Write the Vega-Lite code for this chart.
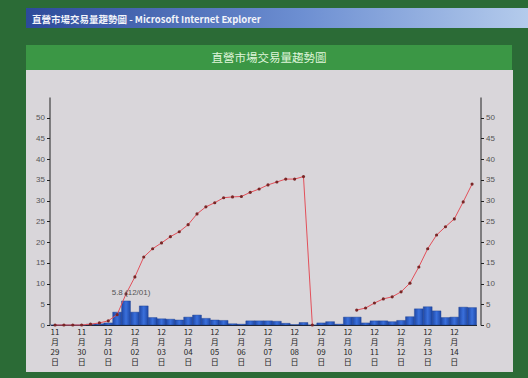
{
  "$schema": "https://vega.github.io/schema/vega-lite/v6.json",
  "background": "#2b6b36",
  "padding": {"left": 26, "top": 8, "right": 0, "bottom": 6},
  "spacing": 17,
  "bounds": "flush",
  "config": {
    "view": {"stroke": null},
    "font": "Noto Sans CJK TC"
  },
  "datasets": {
    "trade": [
      {"t": "11/29 1", "v": 0, "c": 0, "seg": "a"},
      {"t": "11/29 2", "v": 0, "c": 0, "seg": "a"},
      {"t": "11/29 3", "v": 0, "c": 0, "seg": "a"},
      {"t": "11/30 1", "v": 0, "c": 0, "seg": "a"},
      {"t": "11/30 2", "v": 0.2, "c": 0.2, "seg": "a"},
      {"t": "11/30 3", "v": 0.3, "c": 0.5, "seg": "a"},
      {"t": "12/01 1", "v": 0.5, "c": 1.0, "seg": "a"},
      {"t": "12/01 2", "v": 3.1, "c": 2.5, "seg": "a"},
      {"t": "12/01 3", "v": 5.8, "c": 7.5, "seg": "a", "note": "5.8 (12/01)"},
      {"t": "12/02 1", "v": 3.1, "c": 11.6, "seg": "a"},
      {"t": "12/02 2", "v": 4.6, "c": 16.4, "seg": "a"},
      {"t": "12/02 3", "v": 1.8, "c": 18.4, "seg": "a"},
      {"t": "12/03 1", "v": 1.5, "c": 19.8, "seg": "a"},
      {"t": "12/03 2", "v": 1.4, "c": 21.3, "seg": "a"},
      {"t": "12/03 3", "v": 1.2, "c": 22.5, "seg": "a"},
      {"t": "12/04 1", "v": 1.9, "c": 24.2, "seg": "a"},
      {"t": "12/04 2", "v": 2.4, "c": 26.8, "seg": "a"},
      {"t": "12/04 3", "v": 1.6, "c": 28.5, "seg": "a"},
      {"t": "12/05 1", "v": 1.2, "c": 29.5, "seg": "a"},
      {"t": "12/05 2", "v": 1.1, "c": 30.7, "seg": "a"},
      {"t": "12/05 3", "v": 0.3, "c": 30.9, "seg": "a"},
      {"t": "12/06 1", "v": 0.2, "c": 31.0, "seg": "a"},
      {"t": "12/06 2", "v": 1.0, "c": 32.0, "seg": "a"},
      {"t": "12/06 3", "v": 1.0, "c": 32.8, "seg": "a"},
      {"t": "12/07 1", "v": 1.0, "c": 33.8, "seg": "a"},
      {"t": "12/07 2", "v": 0.9, "c": 34.5, "seg": "a"},
      {"t": "12/07 3", "v": 0.4, "c": 35.2, "seg": "a"},
      {"t": "12/08 1", "v": 0.1, "c": 35.2, "seg": "a"},
      {"t": "12/08 2", "v": 0.6, "c": 35.8, "seg": "a"},
      {"t": "12/08 3", "v": 0, "c": 0, "seg": "a"},
      {"t": "12/09 1", "v": 0.5, "c": null, "seg": "b"},
      {"t": "12/09 2", "v": 0.8, "c": null, "seg": "b"},
      {"t": "12/09 3", "v": 0.2, "c": null, "seg": "b"},
      {"t": "12/10 1", "v": 1.9, "c": null, "seg": "b"},
      {"t": "12/10 2", "v": 1.9, "c": 3.6, "seg": "b"},
      {"t": "12/10 3", "v": 0.5, "c": 4.1, "seg": "b"},
      {"t": "12/11 1", "v": 1.0, "c": 5.3, "seg": "b"},
      {"t": "12/11 2", "v": 1.0, "c": 6.3, "seg": "b"},
      {"t": "12/11 3", "v": 0.8, "c": 6.8, "seg": "b"},
      {"t": "12/12 1", "v": 1.1, "c": 8.0, "seg": "b"},
      {"t": "12/12 2", "v": 2.0, "c": 10.1, "seg": "b"},
      {"t": "12/12 3", "v": 3.9, "c": 14.0, "seg": "b"},
      {"t": "12/13 1", "v": 4.4, "c": 18.4, "seg": "b"},
      {"t": "12/13 2", "v": 3.4, "c": 21.7, "seg": "b"},
      {"t": "12/13 3", "v": 1.8, "c": 23.7, "seg": "b"},
      {"t": "12/14 1", "v": 1.9, "c": 25.6, "seg": "b"},
      {"t": "12/14 2", "v": 4.3, "c": 29.7, "seg": "b"},
      {"t": "12/14 3", "v": 4.2, "c": 34.0, "seg": "b"}
    ]
  },
  "vconcat": [
    {
      "width": 502,
      "height": 20,
      "data": {"values": [{}]},
      "mark": {"type": "text", "text": ""},
      "view": {
        "fill": {
          "gradient": "linear", "x1": 0, "y1": 0, "x2": 1, "y2": 0,
          "stops": [
            {"offset": 0, "color": "#2c4a9a"},
            {"offset": 0.55, "color": "#6d8fd2"},
            {"offset": 1, "color": "#b4cbec"}
          ]
        }
      },
      "title": {
        "text": "直營市場交易量趨勢圖 - Microsoft Internet Explorer",
        "anchor": "start",
        "offset": -16,
        "dx": 6,
        "fontSize": 9.5,
        "fontWeight": "bold",
        "color": "#f2f4fa"
      }
    },
    {
      "spacing": 0,
      "bounds": "flush",
      "vconcat": [
        {
          "width": 486,
          "height": 25,
          "data": {"values": [{}]},
          "mark": {"type": "text", "text": ""},
          "view": {"fill": "#3b9745"},
          "title": {
            "text": "直營市場交易量趨勢圖",
            "anchor": "middle",
            "offset": -19,
            "fontSize": 11.5,
            "fontWeight": "normal",
            "color": "#dff5da"
          }
        },
        {
          "width": 487,
          "height": 302,
          "view": {"fill": "#d9d6da"},
          "data": {"name": "trade"},
          "encoding": {
            "x": {
              "field": "t",
              "type": "nominal",
              "sort": null,
              "scale": {"range": [24.6, 450.5], "paddingInner": 0, "paddingOuter": 0},
              "axis": {
                "orient": "bottom",
                "offset": -47,
                "title": null,
                "values": ["11/29 1", "11/30 1", "12/01 1", "12/02 1", "12/03 1", "12/04 1", "12/05 1", "12/06 1", "12/07 1", "12/08 1", "12/09 1", "12/10 1", "12/11 1", "12/12 1", "12/13 1", "12/14 1"],
                "labelExpr": "[substring(datum.value, 0, 2), '月', substring(datum.value, 3, 5), '日']",
                "labelAngle": 0,
                "labelOverlap": false,
                "labelBaseline": "top",
                "labelFontSize": 8,
                "labelLineHeight": 10,
                "labelPadding": 3,
                "labelColor": "#262626",
                "ticks": false,
                "domainColor": "#222222",
                "grid": false
              }
            }
          },
          "layer": [
            {
              "mark": {
                "type": "bar",
                "fill": {
                  "gradient": "linear", "x1": 0, "y1": 0, "x2": 1, "y2": 0,
                  "stops": [
                    {"offset": 0, "color": "#1f48a6"},
                    {"offset": 0.5, "color": "#3a70dc"},
                    {"offset": 1, "color": "#1f48a6"}
                  ]
                },
                "stroke": "#1a3d90",
                "strokeWidth": 0.4
              },
              "encoding": {
                "y": {
                  "field": "v",
                  "type": "quantitative",
                  "scale": {"domain": [0, 55], "range": [255, 27], "nice": false, "zero": true},
                  "axis": {
                    "orient": "left",
                    "offset": -23.5,
                    "title": null,
                    "values": [0, 5, 10, 15, 20, 25, 30, 35, 40, 45, 50],
                    "grid": false,
                    "domainColor": "#222222",
                    "tickColor": "#222222",
                    "tickSize": 3,
                    "labelFontSize": 8,
                    "labelColor": "#555555",
                    "labelPadding": 2,
                    "labelFont": "Liberation Sans"
                  }
                }
              }
            },
            {
              "mark": {"type": "line", "color": "#e2505a", "strokeWidth": 1},
              "encoding": {
                "y": {
                  "field": "c",
                  "type": "quantitative",
                  "scale": {"domain": [0, 55], "range": [255, 27], "nice": false, "zero": true},
                  "axis": {
                    "orient": "right",
                    "offset": -32.5,
                    "title": null,
                    "values": [0, 5, 10, 15, 20, 25, 30, 35, 40, 45, 50],
                    "grid": false,
                    "domainColor": "#222222",
                    "tickColor": "#222222",
                    "tickSize": 3,
                    "labelFontSize": 8,
                    "labelColor": "#555555",
                    "labelPadding": 2,
                    "labelFont": "Liberation Sans"
                  }
                },
                "detail": {"field": "seg"}
              }
            },
            {
              "mark": {"type": "point", "filled": true, "size": 10, "color": "#7a2626", "opacity": 1},
              "encoding": {
                "y": {
                  "field": "c",
                  "type": "quantitative",
                  "scale": {"domain": [0, 55], "range": [255, 27], "nice": false, "zero": true},
                  "axis": null
                }
              }
            },
            {
              "transform": [{"filter": "datum.note != null"}],
              "mark": {"type": "text", "fontSize": 8, "color": "#555555", "baseline": "bottom", "align": "center", "dy": -4, "dx": 5, "font": "Liberation Sans"},
              "encoding": {
                "y": {
                  "field": "v",
                  "type": "quantitative",
                  "scale": {"domain": [0, 55], "range": [255, 27], "nice": false, "zero": true},
                  "axis": null
                },
                "text": {"field": "note"}
              }
            }
          ],
          "resolve": {"scale": {"y": "independent"}}
        }
      ]
    }
  ]
}
